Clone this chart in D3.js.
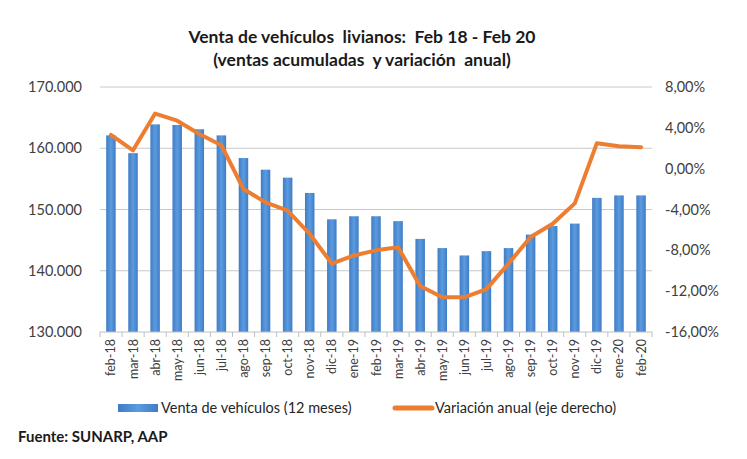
<!DOCTYPE html>
<html><head><meta charset="utf-8">
<script src="https://cdn.jsdelivr.net/npm/d3@7"></script>
<style>body{margin:0;background:#fff}svg{display:block}text{font-family:Lato,"Open Sans",sans-serif}</style>
</head><body><svg id="c" width="747" height="459"></svg>
<script>
const categories = ["feb-18","mar-18","abr-18","may-18","jun-18","jul-18","ago-18","sep-18","oct-18","nov-18","dic-18","ene-19","feb-19","mar-19","abr-19","may-19","jun-19","jul-19","ago-19","sep-19","oct-19","nov-19","dic-19","ene-20","feb-20"];
const ventas = [162100,159200,163900,163800,163100,162100,158400,156500,155200,152700,148400,148900,148900,148100,145200,143700,142500,143200,143700,145900,147300,147700,151900,152300,152300];
const variacion = [3.3,1.8,5.4,4.7,3.4,2.3,-2.0,-3.3,-4.1,-6.4,-9.3,-8.5,-8.0,-7.7,-11.5,-12.6,-12.6,-11.8,-9.3,-6.7,-5.4,-3.4,2.5,2.2,2.1];
const leftTicks = [130000,140000,150000,160000,170000];
const rightTicks = [-16,-12,-8,-4,0,4,8];
const titleLines = ["Venta de vehículos  livianos:  Feb 18 - Feb 20","(ventas acumuladas  y variación  anual)"];
const legendLabels = ["Venta de vehículos (12 meses)","Variación anual (eje derecho)"];
const source = "Fuente: SUNARP, AAP";

const svg = d3.select("#c");
const L = 100, R = 652, T = 87, B = 332;
const x = d3.scaleBand().domain(categories).range([L, R]).paddingInner(0.57).paddingOuter(0.28);
const y = d3.scaleLinear().domain([130000,170000]).range([B, T]);
const y2 = d3.scaleLinear().domain([-16,8]).range([B, T]);

const defs = svg.append("defs");
const g = defs.append("linearGradient").attr("id","bg").attr("x1","0").attr("x2","1");
g.append("stop").attr("offset","0").attr("stop-color","#3f7cc4");
g.append("stop").attr("offset","0.5").attr("stop-color","#5b9be0");
g.append("stop").attr("offset","1").attr("stop-color","#3f7cc4");

svg.append("g").selectAll("line").data(leftTicks.slice(1)).join("line")
  .attr("x1", L).attr("x2", R).attr("y1", d => y(d)).attr("y2", d => y(d))
  .attr("stroke","#c8c8c8").attr("stroke-width",1);

const fmtL = d => d3.format(",")(d).replace(/,/g,".");
svg.append("g").attr("transform",`translate(82,0)`)
  .call(d3.axisLeft(y).tickValues(leftTicks).tickFormat(fmtL).tickSize(0).tickPadding(0))
  .call(a => a.select(".domain").remove())
  .selectAll("text").attr("font-size",14.5).attr("fill","#404040").attr("font-family","Lato, sans-serif");

const fmtR = d => d3.format(".2f")(d).replace(".",",").replace("−","-") + "%";
svg.append("g").attr("transform",`translate(665,0)`)
  .call(d3.axisRight(y2).tickValues(rightTicks).tickFormat(fmtR).tickSize(0).tickPadding(0))
  .call(a => a.select(".domain").remove())
  .selectAll("text").attr("font-size",14.5).attr("fill","#404040").attr("font-family","Lato, sans-serif");

svg.append("g").selectAll("rect").data(ventas).join("rect")
  .attr("x",(d,i)=>x(categories[i])).attr("width",x.bandwidth())
  .attr("y",d=>y(d)).attr("height",d=>B-y(d)).attr("fill","url(#bg)");

svg.append("line").attr("x1",L).attr("x2",R).attr("y1",B).attr("y2",B).attr("stroke","#bfbfbf");
svg.append("g").selectAll("line").data(d3.range(categories.length+1)).join("line")
  .attr("x1",i=>L+i*(R-L)/categories.length).attr("x2",i=>L+i*(R-L)/categories.length)
  .attr("y1",B).attr("y2",B+5).attr("stroke","#bfbfbf");
svg.append("g").selectAll("text").data(categories).join("text")
  .attr("transform",d=>`translate(${x(d)+x.bandwidth()/2+4.5},${B+7}) rotate(-90)`)
  .attr("text-anchor","end").attr("font-size",12.5).attr("fill","#404040").text(d=>d);

const line = d3.line().x((d,i)=>x(categories[i])+x.bandwidth()/2).y(d=>y2(d));
svg.append("path").datum(variacion).attr("d",line).attr("fill","none")
  .attr("stroke","#ed7d31").attr("stroke-width",4).attr("stroke-linejoin","round").attr("stroke-linecap","round");

svg.append("g").selectAll("text").data(titleLines).join("text")
  .attr("x",362).attr("y",(d,i)=>43+i*23).attr("text-anchor","middle")
  .attr("font-size",17.5).attr("font-weight","bold").attr("fill","#1a1a1a").attr("xml:space","preserve").text(d=>d);

svg.append("rect").attr("x",118).attr("y",404).attr("width",40).attr("height",8).attr("fill","url(#bg)");
svg.append("text").attr("x",161).attr("y",413).attr("font-size",14.5).attr("fill","#262626").text(legendLabels[0]);
svg.append("line").attr("x1",395).attr("x2",432).attr("y1",408).attr("y2",408).attr("stroke","#ed7d31").attr("stroke-width",5).attr("stroke-linecap","round");
svg.append("text").attr("x",435).attr("y",413).attr("font-size",14.5).attr("fill","#262626").text(legendLabels[1]);

svg.append("text").attr("x",18).attr("y",442).attr("font-size",15).attr("font-weight","bold").attr("fill","#1a1a1a").text(source);
</script></body></html>
